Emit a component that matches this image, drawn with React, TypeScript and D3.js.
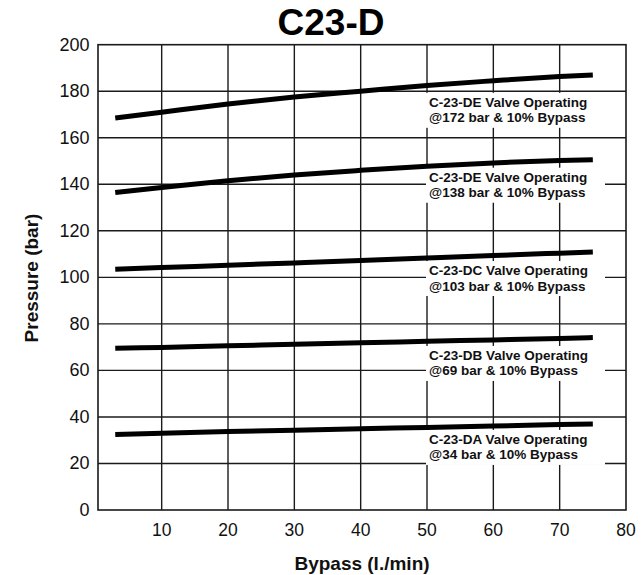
import React from "react";
import * as d3 from "d3";

const title = "C23-D";
const xLabel = "Bypass (l./min)";
const yLabel = "Pressure (bar)";
const xTicks = [10, 20, 30, 40, 50, 60, 70, 80];
const yTicks = [0, 20, 40, 60, 80, 100, 120, 140, 160, 180, 200];

const flow = [3, 10, 20, 30, 40, 50, 60, 70, 75];
const de172 = [168.5, 171, 174.5, 177.5, 180, 182.5, 184.5, 186.3, 187];
const de138 = [136.5, 138.6, 141.5, 144, 146, 147.8, 149.2, 150.2, 150.6];
const dc103 = [103.5, 104.2, 105.2, 106.2, 107.2, 108.3, 109.4, 110.4, 110.9];
const db69 = [69.5, 69.9, 70.6, 71.2, 71.9, 72.5, 73.1, 73.7, 74.1];
const da34 = [32.5, 33, 33.7, 34.3, 34.9, 35.5, 36.1, 36.7, 37];

const seriesValues = [de172, de138, dc103, db69, da34];
const labelLine1 = [
  "C-23-DE Valve Operating",
  "C-23-DE Valve Operating",
  "C-23-DC Valve Operating",
  "C-23-DB Valve Operating",
  "C-23-DA Valve Operating",
];
const labelLine2 = [
  "@172 bar & 10% Bypass",
  "@138 bar & 10% Bypass",
  "@103 bar & 10% Bypass",
  "@69 bar & 10% Bypass",
  "@34 bar & 10% Bypass",
];
const labelPressure = [173.3, 141.1, 101, 64.5, 28.4];
const labelFlow = 50;

const W = 643;
const H = 575;
const FONT = "'Liberation Sans', Arial, Helvetica, sans-serif";

export default function App() {
  const x = d3.scaleLinear().domain([0.4, 80]).range([98, 626]);
  const y = d3.scaleLinear().domain([0, 200]).range([510, 44.7]);
  const line = d3
    .line<[number, number]>()
    .x((d) => x(d[0]))
    .y((d) => y(d[1]))
    .curve(d3.curveMonotoneX);

  const left = x(0.4);
  const right = x(80);
  const top = y(200);
  const bottom = y(0);
  const grid = "#1a1a1a";

  return (
    <svg
      width={W}
      height={H}
      style={{ position: "absolute", left: 0, top: 0, background: "#fff" }}
    >
      <rect x={0} y={0} width={W} height={H} fill="#fff" />
      {xTicks.slice(0, -1).map((t) => (
        <line key={"gx" + t} x1={x(t)} x2={x(t)} y1={top} y2={bottom} stroke={grid} strokeWidth={1.4} />
      ))}
      {yTicks.slice(1, -1).map((t) => (
        <line key={"gy" + t} x1={left} x2={right} y1={y(t)} y2={y(t)} stroke={grid} strokeWidth={1.4} />
      ))}
      {labelPressure.map((p, i) => (
        <rect
          key={"bg" + i}
          x={x(labelFlow) - 1}
          y={y(p) - 14}
          width={179}
          height={35}
          fill="#fff"
        />
      ))}
      <rect x={left} y={top} width={right - left} height={bottom - top} fill="none" stroke={grid} strokeWidth={1.6} />
      {seriesValues.map((vals, i) => (
        <path
          key={"s" + i}
          d={line(flow.map((f, j) => [f, vals[j]] as [number, number])) || ""}
          fill="none"
          stroke="#000"
          strokeWidth={5}
        />
      ))}
      {labelPressure.map((p, i) => (
        <g key={"lb" + i}>
          <text
            x={x(labelFlow) + 2}
            y={y(p)}
            fontFamily={FONT}
            fontWeight="bold"
            fontSize={13.5}
            fill="#111"
          >
            {labelLine1[i]}
          </text>
          <text
            x={x(labelFlow) + 2}
            y={y(p) + 15.5}
            fontFamily={FONT}
            fontWeight="bold"
            fontSize={13.5}
            fill="#111"
          >
            {labelLine2[i]}
          </text>
        </g>
      ))}
      {yTicks.map((t) => (
        <text key={"yt" + t} x={89.5} y={y(t) + 6} textAnchor="end" fontFamily={FONT} fontSize={18} fill="#111">
          {t}
        </text>
      ))}
      {xTicks.map((t) => (
        <text key={"xt" + t} x={x(t)} y={536} textAnchor="middle" fontFamily={FONT} fontSize={17.5} fill="#111">
          {t}
        </text>
      ))}
      <text x={331} y={35} textAnchor="middle" fontFamily={FONT} fontWeight="bold" fontSize={37} fill="#000">
        {title}
      </text>
      <text x={362} y={570} textAnchor="middle" fontFamily={FONT} fontWeight="bold" fontSize={19} fill="#111">
        {xLabel}
      </text>
      <text
        transform={`translate(38,278) rotate(-90)`}
        textAnchor="middle"
        fontFamily={FONT}
        fontWeight="bold"
        fontSize={19}
        fill="#111"
      >
        {yLabel}
      </text>
    </svg>
  );
}
